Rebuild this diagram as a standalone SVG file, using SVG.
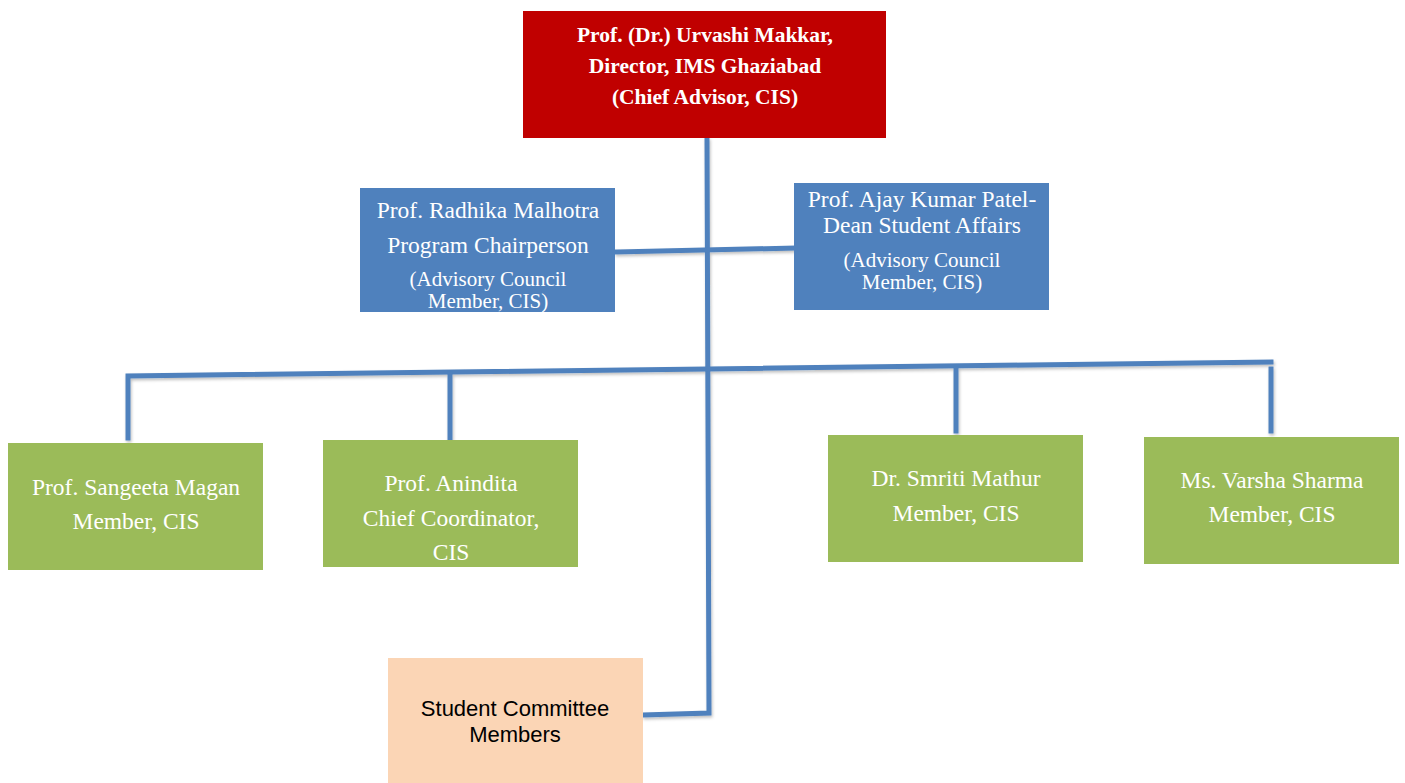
<svg xmlns="http://www.w3.org/2000/svg" width="1405" height="783" viewBox="0 0 1405 783">
<defs>
<style>
.serif{font-family:"Liberation Serif","Times New Roman",serif;fill:#fff;text-anchor:middle}
.b{font-weight:bold;font-size:21.5px}
.l{font-size:23.5px}
.s{font-size:21px}
.sans{font-family:"Liberation Sans",Arial,sans-serif;font-size:22px;fill:#000;text-anchor:middle}
.con{fill:none;stroke:#4F81BD;stroke-width:5;stroke-linecap:square;stroke-linejoin:miter}
</style>
<filter id="sh" x="-5%" y="-5%" width="110%" height="110%">
<feDropShadow dx="1" dy="2" stdDeviation="1.5" flood-color="#000" flood-opacity="0.25"/>
</filter>
</defs>
<rect width="1405" height="783" fill="#fff"/>
<g id="connectors" filter="url(#sh)">
<path class="con" d="M707 140 L709 713 L645 715"/>
<path class="con" d="M617 252 L794 248"/>
<path class="con" d="M128 438 L128 376 L1271 362"/>
<path class="con" d="M450 374 L450 438"/>
<path class="con" d="M956 369 L956 431"/>
<path class="con" d="M1271 369 L1271 431"/>
</g>
<g id="director">
<rect x="523" y="11" width="363" height="127" fill="#C00000"/>
<text class="serif b" x="705" y="42">Prof. (Dr.) Urvashi Makkar,</text>
<text class="serif b" x="705" y="73">Director, IMS Ghaziabad</text>
<text class="serif b" x="705" y="104">(Chief Advisor, CIS)</text>
</g>
<g id="radhika">
<rect x="360" y="188" width="255" height="124" fill="#4F81BD"/>
<text class="serif l" x="488" y="218">Prof. Radhika Malhotra</text>
<text class="serif l" x="488" y="253">Program Chairperson</text>
<text class="serif s" x="488" y="286">(Advisory Council</text>
<text class="serif s" x="488" y="308">Member, CIS)</text>
</g>
<g id="ajay">
<rect x="794" y="183" width="255" height="127" fill="#4F81BD"/>
<text class="serif l" x="922" y="207">Prof. Ajay Kumar Patel-</text>
<text class="serif l" x="922" y="233">Dean Student Affairs</text>
<text class="serif s" x="922" y="267">(Advisory Council</text>
<text class="serif s" x="922" y="289">Member, CIS)</text>
</g>
<g id="sangeeta">
<rect x="8" y="443" width="255" height="127" fill="#9BBB59"/>
<text class="serif l" x="136" y="495">Prof. Sangeeta Magan</text>
<text class="serif l" x="136" y="529">Member, CIS</text>
</g>
<g id="anindita">
<rect x="323" y="440" width="255" height="127" fill="#9BBB59"/>
<text class="serif l" x="451" y="491">Prof. Anindita</text>
<text class="serif l" x="451" y="526">Chief Coordinator,</text>
<text class="serif l" x="451" y="560">CIS</text>
</g>
<g id="smriti">
<rect x="828" y="435" width="255" height="127" fill="#9BBB59"/>
<text class="serif l" x="956" y="486">Dr. Smriti Mathur</text>
<text class="serif l" x="956" y="521">Member, CIS</text>
</g>
<g id="varsha">
<rect x="1144" y="437" width="255" height="127" fill="#9BBB59"/>
<text class="serif l" x="1272" y="488">Ms. Varsha Sharma</text>
<text class="serif l" x="1272" y="522">Member, CIS</text>
</g>
<g id="students">
<rect x="388" y="658" width="255" height="125" fill="#FBD5B5"/>
<text class="sans" x="515" y="716">Student Committee</text>
<text class="sans" x="515" y="742">Members</text>
</g>
</svg>
